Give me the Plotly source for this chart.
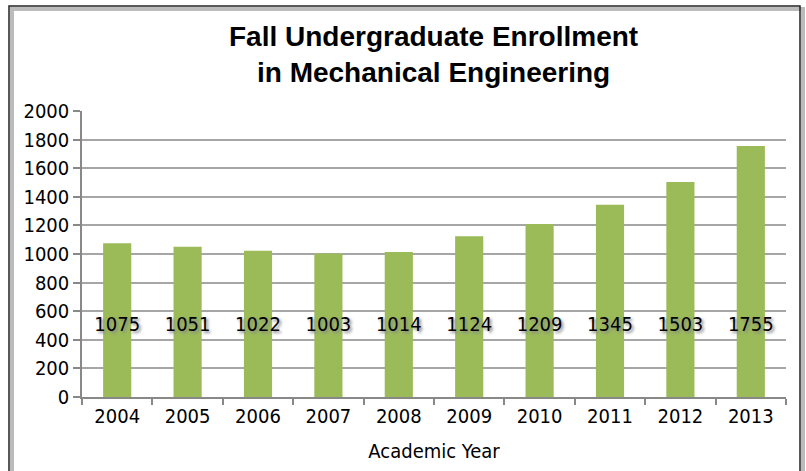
import plotly.graph_objects as go

years = ["2004", "2005", "2006", "2007", "2008", "2009", "2010", "2011", "2012", "2013"]
enrollment = [1075, 1051, 1022, 1003, 1014, 1124, 1209, 1345, 1503, 1755]
label_level = [500] * len(years)
y_ticks = list(range(0, 2001, 200))

W, H = 806, 471
L, R, T, B = 82, 20, 111, 74
pw, ph = W - L - R, H - T - B

def px_x(p):
    return (p - L) / pw

def px_y(p):
    return (H - B - p) / ph

narrow = "DejaVu Sans Condensed, Liberation Sans Narrow, Arial Narrow, sans-serif"

fig = go.Figure()
fig.add_trace(go.Bar(
    x=years, y=enrollment, width=0.4,
    marker=dict(color="#9BBB59", line=dict(width=0)),
    hoverinfo="skip",
))
fig.add_trace(go.Scatter(
    x=years, y=label_level, mode="text",
    text=[str(v) for v in enrollment],
    textfont=dict(family=narrow, size=20, color="#000000", shadow="2px 2px 3px #888888"),
    hoverinfo="skip",
))

fig.update_layout(
    width=W, height=H,
    margin=dict(l=L, r=R, t=T, b=B, autoexpand=False),
    paper_bgcolor="white", plot_bgcolor="white",
    showlegend=False,
    bargap=0.6,
    xaxis=dict(
        type="category", automargin=False,
        tickson="boundaries",
        ticks="outside", ticklen=6, tickcolor="#888888", tickwidth=1.5,
        showline=True, linecolor="#888888", linewidth=1.5,
        showgrid=False,
        tickfont=dict(family=narrow, size=20, color="#000000"),
        title=dict(text="Academic Year", standoff=17,
                   font=dict(family=narrow, size=20, color="#000000")),
    ),
    yaxis=dict(
        range=[0, 2000], automargin=False,
        tickvals=y_ticks,
        ticks="outside", ticklen=7, tickcolor="#888888", tickwidth=1.5,
        showline=True, linecolor="#888888", linewidth=1.5,
        showgrid=True, gridcolor="#A6A6A6", gridwidth=1.5,
        zeroline=False,
        tickfont=dict(family=narrow, size=20, color="#000000"),
    ),
    annotations=[
        dict(text="<b>Fall Undergraduate Enrollment<br>in Mechanical Engineering</b>",
             xref="paper", yref="paper", x=px_x(433), y=px_y(19),
             xanchor="center", yanchor="top", showarrow=False,
             font=dict(family="Liberation Sans, Arial, sans-serif", size=28, color="#000000")),
    ],
    shapes=[
        dict(type="rect", xref="paper", yref="paper",
             x0=px_x(12), x1=px_x(803), y0=px_y(490), y1=px_y(9),
             line=dict(color="#BBBBBB", width=4), layer="below"),
        dict(type="rect", xref="paper", yref="paper",
             x0=px_x(9), x1=px_x(800), y0=px_y(490), y1=px_y(6),
             line=dict(color="#222222", width=1.5), layer="above"),
    ],
)

fig.write_html("out.html",
               config={"displayModeBar": False},
               post_script="document.body.style.margin='0';document.body.style.overflow='hidden';")
